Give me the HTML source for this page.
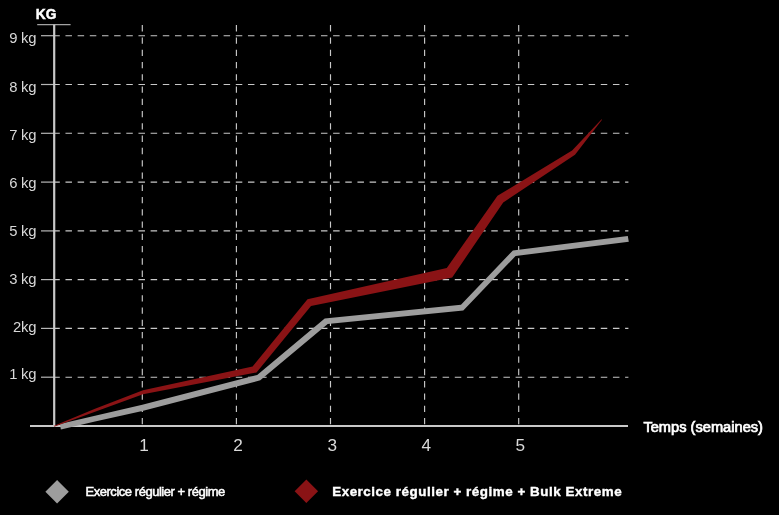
<!DOCTYPE html>
<html lang="fr"><head><meta charset="utf-8"><title>Graphique</title>
<style>
html,body{margin:0;padding:0;background:#000;}
body{width:779px;height:515px;overflow:hidden;}
svg{display:block;will-change:transform;}
text{font-family:"Liberation Sans",sans-serif;}
.yl{font-size:14.8px;fill:#d8d8d8;text-anchor:end;letter-spacing:-0.25px;}
.xl{font-size:17.2px;fill:#dadada;text-anchor:middle;}
</style></head><body>
<svg width="779" height="515" viewBox="0 0 779 515">
<rect width="779" height="515" fill="#000"/>
<g stroke="#c8c8c8" stroke-width="1.15" fill="none">
<line x1="53.3" y1="35.70" x2="628.4" y2="35.70" stroke-dasharray="6.5 5.666"/>
<line x1="53.3" y1="84.49" x2="628.4" y2="84.49" stroke-dasharray="6.5 5.666"/>
<line x1="53.3" y1="133.28" x2="628.4" y2="133.28" stroke-dasharray="6.5 5.666"/>
<line x1="53.3" y1="182.07" x2="628.4" y2="182.07" stroke-dasharray="6.5 5.666"/>
<line x1="53.3" y1="230.86" x2="628.4" y2="230.86" stroke-dasharray="6.5 5.666"/>
<line x1="53.3" y1="279.65" x2="628.4" y2="279.65" stroke-dasharray="6.5 5.666"/>
<line x1="53.3" y1="328.44" x2="628.4" y2="328.44" stroke-dasharray="6.5 5.666"/>
<line x1="53.3" y1="377.23" x2="628.4" y2="377.23" stroke-dasharray="6.5 5.666"/>
<line x1="142.3" y1="25.1" x2="142.3" y2="426" stroke-dasharray="6.3 5.976"/>
<line x1="236.4" y1="25.1" x2="236.4" y2="426" stroke-dasharray="6.3 5.976"/>
<line x1="330.5" y1="25.1" x2="330.5" y2="426" stroke-dasharray="6.3 5.976"/>
<line x1="424.6" y1="25.1" x2="424.6" y2="426" stroke-dasharray="6.3 5.976"/>
<line x1="518.7" y1="25.1" x2="518.7" y2="426" stroke-dasharray="6.3 5.976"/>
</g>
<g stroke="#b6b6b6" stroke-width="1.2">
<line x1="41" y1="35.7" x2="54" y2="35.7"/>
<line x1="41" y1="84.5" x2="54" y2="84.5"/>
<line x1="41" y1="133.3" x2="54" y2="133.3"/>
<line x1="41" y1="182.1" x2="54" y2="182.1"/>
<line x1="41" y1="230.9" x2="54" y2="230.9"/>
<line x1="41" y1="279.6" x2="54" y2="279.6"/>
<line x1="41" y1="328.4" x2="54" y2="328.4"/>
<line x1="41" y1="377.2" x2="54" y2="377.2"/>
</g>
<line x1="37.2" y1="24.7" x2="70.6" y2="24.7" stroke="#a2a2a2" stroke-width="1.3"/>
<line x1="54.2" y1="24.7" x2="54.2" y2="427" stroke="#c9c9c9" stroke-width="2.2"/>
<line x1="30" y1="425.95" x2="628" y2="425.95" stroke="#c9c9c9" stroke-width="2.1"/>
<polygon fill="#9d9d9d" points="59.8,424.1 95.0,415.7 142.3,404.8 257.2,374.9 324.7,318.5 461.0,304.7 512.9,250.4 627.8,236.0 628.8,241.8 515.6,256.0 463.3,310.6 327.7,323.9 260.3,380.3 142.3,411.0 95.0,421.5 60.9,429.6"/>
<polygon fill="#8a1315" points="54.2,425.8 95.0,408.7 143.0,390.2 252.6,366.5 307.5,299.2 446.8,267.9 497.5,195.8 572.1,150.6 601.6,119.2 602.0,119.8 575.0,154.8 503.2,202.4 452.2,277.4 311.0,305.9 256.5,372.4 143.0,394.2 95.0,411.8 54.2,426.8"/>
<text x="35.8" y="19.15" font-size="15.2" font-weight="700" fill="#fff" stroke="#fff" stroke-width="0.5" textLength="20.6" lengthAdjust="spacingAndGlyphs">KG</text>
<text class="yl" x="36.2" y="43.15">9 kg</text>
<text class="yl" x="36.2" y="91.65">8 kg</text>
<text class="yl" x="36.2" y="139.75">7 kg</text>
<text class="yl" x="36.2" y="188.25">6 kg</text>
<text class="yl" x="36.2" y="236.15">5 kg</text>
<text class="yl" x="36.2" y="284.45">3 kg</text>
<text class="yl" x="36.2" y="332.35">2kg</text>
<text class="yl" x="36.2" y="379.45">1 kg</text>
<text class="xl" x="144.0" y="450.7">1</text>
<text class="xl" x="238.1" y="450.7">2</text>
<text class="xl" x="332.2" y="450.7">3</text>
<text class="xl" x="426.3" y="450.7">4</text>
<text class="xl" x="520.4" y="450.7">5</text>
<text x="643.4" y="432.4" font-size="14" fill="#fff" stroke="#fff" stroke-width="0.7" textLength="119.6" lengthAdjust="spacingAndGlyphs">Temps (semaines)</text>
<polygon fill="#9d9d9d" points="57.1,479.9 68.8,491.7 57.1,503.5 45.4,491.7"/>
<polygon fill="#8a1315" points="306.35,479.5 318.05,491.2 306.35,502.9 294.65,491.2"/>
<text x="85.5" y="496.3" font-size="13" fill="#fff" stroke="#fff" stroke-width="0.5" textLength="139.8" lengthAdjust="spacing">Exercice régulier + régime</text>
<text x="332.2" y="496" font-size="13.4" font-weight="700" fill="#fff" stroke="#fff" stroke-width="0.4" textLength="289.4" lengthAdjust="spacing">Exercice régulier + régime + Bulk Extreme</text>
</svg></body></html>
